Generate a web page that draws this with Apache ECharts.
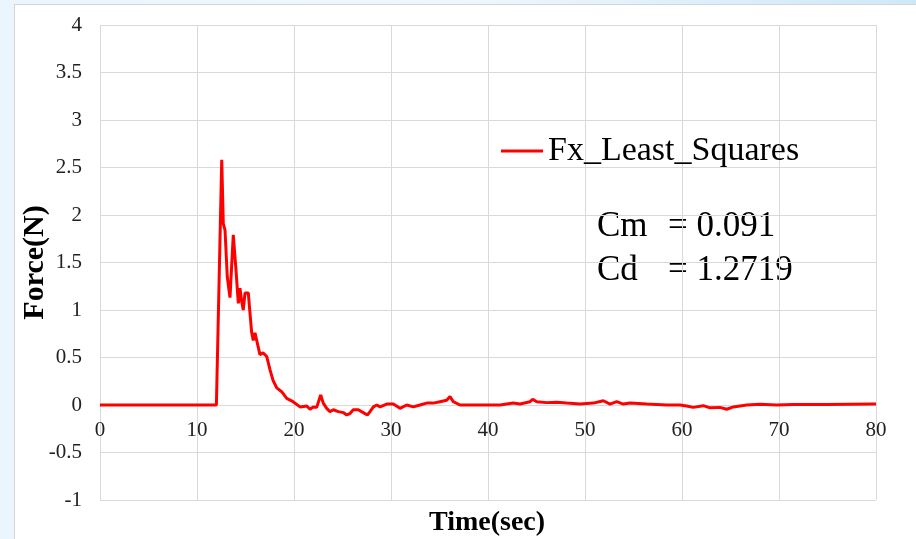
<!DOCTYPE html>
<html>
<head>
<meta charset="utf-8">
<script src="https://cdn.jsdelivr.net/npm/echarts@6/dist/echarts.min.js"></script>
<style>
  html, body { margin: 0; padding: 0; width: 916px; height: 539px; overflow: hidden;
    background: linear-gradient(90deg, #eaf5fd 0%, #eef7fd 50%, #cfe8f8 100%); }
  #panel { position: absolute; left: 14px; top: 4px; width: 902px; height: 535px;
    background: #ffffff; border-left: 1px solid #d4d4d4; border-top: 1px solid #d4d4d4; box-sizing: border-box; }
  #chart { position: absolute; left: 0; top: 0; width: 916px; height: 539px; }
</style>
</head>
<body>
<div id="panel"></div>
<div id="chart"></div>
<script>
// ---- data ----
const seriesName = 'Fx_Least_Squares';
const times = [
  0, 12.0, 12.55, 12.71, 12.89, 13.12, 13.40, 13.74, 13.92, 14.02, 14.26, 14.43, 14.61, 14.77,
  14.95, 15.29, 15.46, 15.64, 15.80, 15.98, 16.15, 16.49, 16.80, 17.19, 17.53, 17.84, 18.22,
  18.73, 19.25, 19.90, 20.62, 21.31, 21.65, 21.99, 22.34, 22.75, 23.02, 23.37, 23.71, 24.05,
  24.57, 25.08, 25.43, 25.77, 26.11, 26.63, 27.14, 27.56, 27.84, 28.18, 28.53, 28.87, 29.56,
  30.24, 30.93, 31.62, 32.30, 32.99, 33.68, 34.36, 35.05, 35.74, 36.08, 36.42, 37.11, 39.18,
  41.24, 42.61, 43.30, 44.33, 44.61, 45.02, 46.05, 47.08, 48.11, 49.48, 50.86, 51.89, 52.58,
  53.27, 53.95, 54.64, 56.36, 58.42, 59.79, 60.48, 61.16, 62.20, 62.89, 63.92, 64.61, 65.29,
  66.67, 68.04, 69.76, 71.47, 74.91, 79.72, 80
];
const forces = [
  0, 0, 2.58, 1.91, 1.84, 1.35, 1.13, 1.79, 1.77, 1.42, 1.07, 1.23, 1.09, 1.00,
  1.18, 1.18, 0.97, 0.76, 0.68, 0.76, 0.74, 0.53, 0.55, 0.51, 0.37, 0.26, 0.18,
  0.14, 0.07, 0.035, -0.02, -0.01, -0.045, -0.02, -0.025, 0.105, 0.02, -0.035, -0.07, -0.05,
  -0.07, -0.08, -0.105, -0.09, -0.05, -0.05, -0.08, -0.105, -0.07, -0.02, 0, -0.02, 0.01,
  0.01, -0.035, 0, -0.02, 0, 0.02, 0.02, 0.035, 0.05, 0.09, 0.035, 0, 0,
  0, 0.02, 0.01, 0.035, 0.06, 0.035, 0.025, 0.03, 0.02, 0.01, 0.02, 0.045, 0.01,
  0.035, 0.01, 0.02, 0.01, 0, 0, -0.01, -0.025, -0.007, -0.03, -0.025, -0.045, -0.02,
  0, 0.007, 0, 0.005, 0.005, 0.01, 0.01
];
const xTicks = { min: 0, max: 80, interval: 10 };
const yTicks = { min: -1, max: 4, interval: 0.5 };
const coefLabels = ['Cm', 'Cd'];
const coefValues = ['= 0.091', '= 1.2719'];
const xName = 'Time(sec)';
const yName = 'Force(N)';

const serif = '"Liberation Serif", "Times New Roman", serif';
const chart = echarts.init(document.getElementById('chart'));
const points = times.map((t, i) => [t, forces[i]]);

// x axis labels sit on the zero line, as in the reference
const gridTop = 25, gridBottom = 39, plotH = 539 - gridTop - gridBottom;
const zeroOffset = -plotH * (0 - yTicks.min) / (yTicks.max - yTicks.min);

chart.setOption({
  backgroundColor: 'transparent',
  animation: false,
  title: {
    text: xName, left: 424, top: 504,
    textStyle: { fontFamily: serif, fontWeight: 'bold', fontSize: 28, color: '#000' }
  },
  legend: {
    data: [seriesName], left: 496, top: 129, icon: 'rect', itemWidth: 42, itemHeight: 3,
    textStyle: { fontFamily: serif, fontSize: 34, color: '#000' }
  },
  grid: { left: 100, right: 40, top: gridTop, bottom: gridBottom, containLabel: false },
  xAxis: {
    type: 'value', min: xTicks.min, max: xTicks.max, interval: xTicks.interval,
    offset: zeroOffset,
    axisLine: { show: true, onZero: false, lineStyle: { color: '#d9d9d9', width: 1 } },
    axisTick: { show: false },
    axisLabel: { fontFamily: serif, fontSize: 21, color: '#222', margin: 15 },
    splitLine: { show: true, lineStyle: { color: '#d9d9d9', width: 1 } }
  },
  yAxis: {
    type: 'value', min: yTicks.min, max: yTicks.max, interval: yTicks.interval,
    name: yName, nameLocation: 'middle', nameRotate: 90, nameGap: 50, nameMoveOverlap: false,
    nameTextStyle: { fontFamily: serif, fontWeight: 'bold', fontSize: 30, color: '#000' },
    axisLine: { show: false }, axisTick: { show: false },
    axisLabel: { fontFamily: serif, fontSize: 21, color: '#222', margin: 18 },
    splitLine: { show: true, lineStyle: { color: '#d9d9d9', width: 1 } }
  },
  graphic: [
    { type: 'text', left: 597, top: 209, style: { text: coefLabels[0], font: '35px ' + serif, fill: '#000' } },
    { type: 'text', left: 668, top: 209, style: { text: coefValues[0], font: '35px ' + serif, fill: '#000' } },
    { type: 'text', left: 597, top: 253, style: { text: coefLabels[1], font: '35px ' + serif, fill: '#000' } },
    { type: 'text', left: 668, top: 253, style: { text: coefValues[1], font: '35px ' + serif, fill: '#000' } }
  ],
  series: [{
    name: seriesName, type: 'line', data: points, showSymbol: false,
    lineStyle: { color: '#ff0000', width: 3 }, itemStyle: { color: '#ff0000' }
  }]
});
</script>
</body>
</html>
